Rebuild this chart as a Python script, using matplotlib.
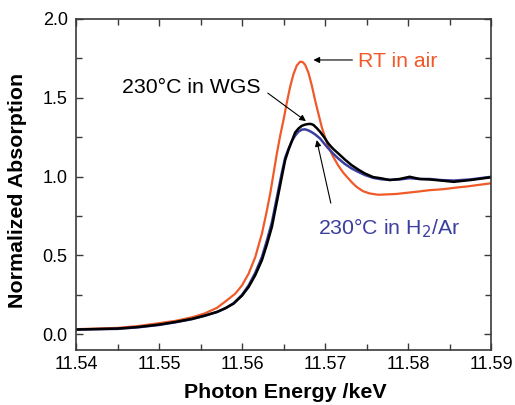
import numpy as np
import matplotlib
matplotlib.use("Agg")
import matplotlib.pyplot as plt
from matplotlib.ticker import MultipleLocator

plt.rcParams['font.family'] = ['Liberation Sans', 'DejaVu Sans']

# photon energy (keV) and normalized absorption
e_air = [11.5400, 11.5425, 11.5450, 11.5475, 11.5500, 11.5520, 11.5540, 11.5555,
         11.5570, 11.5580, 11.5592, 11.5600, 11.5608, 11.5616, 11.5624, 11.5629,
         11.5634, 11.5638, 11.5642, 11.5646, 11.5650, 11.5654, 11.5658, 11.5662,
         11.5666, 11.5670, 11.5673, 11.5676, 11.5680, 11.5684, 11.5688, 11.5692,
         11.5696, 11.5700, 11.5704, 11.5710, 11.5716, 11.5722, 11.5728, 11.5733,
         11.5738, 11.5746, 11.5754, 11.5764, 11.5774, 11.5786, 11.5798, 11.5812,
         11.5826, 11.5842, 11.5859, 11.5872, 11.5883, 11.5899]
mu_air = [0.032, 0.036, 0.040, 0.052, 0.070, 0.085, 0.108, 0.132,
          0.168, 0.208, 0.258, 0.310, 0.385, 0.490, 0.639, 0.760,
          0.893, 1.020, 1.147, 1.260, 1.359, 1.470, 1.570, 1.650,
          1.705, 1.729, 1.727, 1.710, 1.660, 1.580, 1.486, 1.400,
          1.316, 1.250, 1.190, 1.125, 1.070, 1.025, 0.989, 0.960,
          0.935, 0.907, 0.893, 0.885, 0.887, 0.890, 0.897, 0.905,
          0.914, 0.920, 0.931, 0.938, 0.946, 0.957]

e_h2 = [11.5400, 11.5425, 11.5450, 11.5475, 11.5500, 11.5520, 11.5540, 11.5555,
        11.5570, 11.5580, 11.5590, 11.5600, 11.5608, 11.5616, 11.5624, 11.5630,
        11.5636, 11.5640, 11.5644, 11.5648, 11.5652, 11.5656, 11.5660, 11.5664,
        11.5668, 11.5672, 11.5676, 11.5680, 11.5684, 11.5688, 11.5694, 11.5699,
        11.5704, 11.5710, 11.5716, 11.5724, 11.5732, 11.5740, 11.5748, 11.5758,
        11.5768, 11.5778, 11.5790, 11.5802, 11.5814, 11.5826, 11.5840, 11.5855,
        11.5875, 11.5899]
mu_h2 = [0.029, 0.032, 0.034, 0.044, 0.059, 0.076, 0.096, 0.117,
         0.141, 0.165, 0.197, 0.250, 0.310, 0.390, 0.490, 0.595,
         0.710, 0.815, 0.920, 1.025, 1.120, 1.175, 1.225, 1.260,
         1.285, 1.298, 1.300, 1.293, 1.282, 1.268, 1.242, 1.210,
         1.179, 1.145, 1.115, 1.080, 1.052, 1.030, 1.010, 0.992,
         0.983, 0.980, 0.982, 0.990, 0.985, 0.985, 0.978, 0.975,
         0.982, 0.998]

e_wgs = [11.5400, 11.5425, 11.5450, 11.5475, 11.5500, 11.5520, 11.5540, 11.5555,
         11.5570, 11.5580, 11.5590, 11.5600, 11.5608, 11.5616, 11.5624, 11.5630,
         11.5636, 11.5640, 11.5644, 11.5648, 11.5652, 11.5656, 11.5660, 11.5664,
         11.5668, 11.5672, 11.5676, 11.5680, 11.5683, 11.5686, 11.5690, 11.5694,
         11.5699, 11.5704, 11.5710, 11.5716, 11.5724, 11.5732, 11.5740, 11.5748,
         11.5758, 11.5768, 11.5778, 11.5790, 11.5802, 11.5814, 11.5826, 11.5840,
         11.5855, 11.5875, 11.5899]
mu_wgs = [0.030, 0.033, 0.036, 0.046, 0.061, 0.078, 0.098, 0.118,
          0.142, 0.165, 0.195, 0.245, 0.300, 0.375, 0.470, 0.570,
          0.681, 0.787, 0.893, 1.000, 1.105, 1.170, 1.225, 1.280,
          1.305, 1.322, 1.330, 1.334, 1.334, 1.328, 1.308, 1.285,
          1.250, 1.210, 1.175, 1.147, 1.108, 1.073, 1.045, 1.020,
          0.997, 0.989, 0.978, 0.985, 0.999, 0.985, 0.982, 0.975,
          0.967, 0.978, 0.995]

red = '#F05A28'
blue = '#3B3F9E'

fig = plt.figure(figsize=(5.15, 4.05), dpi=100)
ax = fig.add_axes([0.1476, 0.1358, 0.8058, 0.8173])

ax.plot(e_air, mu_air, color=red, lw=1.6)
ax.plot(e_h2, mu_h2, color=blue, lw=1.8)
ax.plot(e_wgs, mu_wgs, color='black', lw=1.8)

ax.set_xlim(11.54, 11.59)
ax.set_ylim(-0.1, 2.0)
ax.xaxis.set_major_locator(MultipleLocator(0.01))
ax.xaxis.set_minor_locator(MultipleLocator(0.005))
ax.yaxis.set_major_locator(MultipleLocator(0.5))
ax.yaxis.set_minor_locator(MultipleLocator(0.25))
ax.xaxis.set_major_formatter(plt.FormatStrFormatter('%.2f'))
ax.yaxis.set_major_formatter(plt.FormatStrFormatter('%.1f'))

spine_c = '#3a3a3a'
for s in ax.spines.values():
    s.set_color(spine_c)
    s.set_linewidth(1.2)
ax.tick_params(which='both', direction='in', top=True, right=True,
               color=spine_c, width=1.0, labelsize=13)
ax.tick_params(which='major', length=5)
ax.tick_params(which='minor', length=4)
ax.tick_params(axis='x', pad=4)
ax.tick_params(axis='y', pad=6)

ax.set_xlabel('Photon Energy /keV', fontsize=15.4, fontweight='bold')
ax.xaxis.set_label_coords(0.504, -0.10)
ax.set_ylabel('Normalized Absorption', fontsize=15.4, fontweight='bold', va='center')
ax.yaxis.set_label_coords(-0.142, 0.483)

arrow = dict(arrowstyle='-|>', color='black', lw=0.8, mutation_scale=9, shrinkA=0, shrinkB=0)

ax.text(11.5740, 1.733, 'RT in air', color=red, fontsize=15.3, va='center')
ax.annotate('', xy=(11.5686, 1.74), xytext=(11.5733, 1.74), arrowprops=arrow)

ax.text(11.5455, 1.568, '230°C in WGS', color='black', fontsize=15.3, va='center')
ax.annotate('', xy=(11.5677, 1.352), xytext=(11.5631, 1.530), arrowprops=arrow)

ax.text(11.5692, 0.673, '230°C in H$_2$/Ar', color=blue, fontsize=15.3, va='center')
ax.annotate('', xy=(11.5690, 1.232), xytext=(11.5707, 0.832), arrowprops=arrow)

fig.savefig('out.png', dpi=100)
